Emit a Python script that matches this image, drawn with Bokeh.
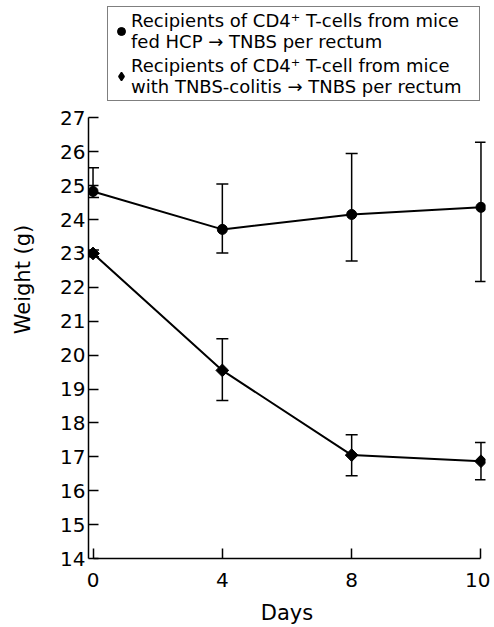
from bokeh.plotting import figure
from bokeh.models import (ColumnDataSource, Whisker, TeeHead, Legend, LegendItem,
                          Range1d, FixedTicker)
from bokeh.embed import file_html
from bokeh.resources import INLINE
import math

# ---- data ----
day_labels = ["0", "4", "8", "10"]
hcp_mean = [24.83, 23.71, 24.15, 24.36]
hcp_upper = [25.53, 25.05, 25.95, 26.28]
hcp_lower = [24.65, 23.01, 22.78, 22.17]
colitis_mean = [23.0, 19.55, 17.05, 16.87]
colitis_upper = [23.1, 20.48, 17.65, 17.42]
colitis_lower = [22.9, 18.66, 16.44, 16.32]
y_ticks = list(range(14, 28))

label_hcp = "Recipients of CD4\u207a T-cells from mice\nfed HCP \u2192 TNBS per rectum"
label_col = "Recipients of CD4\u207a T-cell from mice\nwith TNBS-colitis \u2192 TNBS per rectum"

xpos = list(range(len(day_labels)))
FONT = "DejaVu Sans"
PAD = 0.035

# layout geometry (pixels)
W, H = 490, 627
AX_TOP, AX_BOTTOM = 118, 561          # where y=27 and y=14 sit
Y_MIN, Y_MAX = y_ticks[0], y_ticks[-1]
px_per_unit = (AX_BOTTOM - AX_TOP) / (Y_MAX - Y_MIN)
y_end = Y_MAX + AX_TOP / px_per_unit   # frame extends to the top edge (room for legend)

src_h = ColumnDataSource(dict(x=xpos, y=hcp_mean, up=hcp_upper, lo=hcp_lower))
src_c = ColumnDataSource(dict(x=xpos, y=colitis_mean, up=colitis_upper, lo=colitis_lower))

p = figure(width=W, height=H, output_backend="svg", toolbar_location=None,
           x_range=Range1d(-PAD, len(day_labels) - 1 + PAD),
           y_range=Range1d(Y_MIN, y_end),
           min_border_left=88, min_border_right=W - 485, min_border_top=0,
           min_border_bottom=H - AX_BOTTOM)
p.outline_line_color = None
p.xgrid.visible = False
p.ygrid.visible = False
p.background_fill_color = "white"

for src in (src_h, src_c):
    w = Whisker(source=src, base="x", upper="up", lower="lo", line_color="black",
                line_width=1.5,
                upper_head=TeeHead(size=12, line_color="black", line_width=1.5),
                lower_head=TeeHead(size=12, line_color="black", line_width=1.5))
    p.add_layout(w)

p.line("x", "y", source=src_h, line_color="black", line_width=2)
p.line("x", "y", source=src_c, line_color="black", line_width=2)
r_h = p.scatter("x", "y", source=src_h, marker="circle", size=10,
                fill_color="black", line_color="black")
# diamond-shaped legend key (sits hidden beneath the plotted markers)
r_c_key = p.scatter("x", "y", source=src_c, marker="diamond", size=1,
                    fill_color="black", line_color="black", line_width=1.5)
r_c = p.scatter("x", "y", source=src_c, marker="square", size=9, angle=math.pi / 4,
                fill_color="black", line_color="black")

# axes
p.xaxis.ticker = FixedTicker(ticks=xpos)
p.xaxis.major_label_overrides = {i: l for i, l in enumerate(day_labels)}
p.xaxis.bounds = (0, len(day_labels) - 1)
p.yaxis.ticker = FixedTicker(ticks=y_ticks)
p.yaxis.bounds = (Y_MIN, Y_MAX)
p.xaxis.axis_label = "Days"
p.yaxis.axis_label = "Weight (g)"
for ax in (p.xaxis, p.yaxis):
    ax.axis_line_color = "black"
    ax.axis_line_width = 1.5
    ax.major_tick_line_color = "black"
    ax.major_tick_line_width = 1.5
    ax.major_tick_in = 10
    ax.major_tick_out = 0
    ax.minor_tick_line_color = None
    ax.major_label_text_font = FONT
    ax.major_label_text_font_size = "20px"
    ax.major_label_text_color = "black"
    ax.axis_label_text_font = FONT
    ax.axis_label_text_font_size = "21px"
    ax.axis_label_text_font_style = "normal"
    ax.axis_label_text_color = "black"
p.xaxis.major_label_standoff = 14
p.xaxis.axis_label_standoff = 11
p.yaxis.major_label_standoff = 3
p.yaxis.axis_label_standoff = 22

legend = Legend(items=[LegendItem(label=label_hcp, renderers=[r_h]),
                       LegendItem(label=label_col, renderers=[r_c_key])],
                location=(107 - 88, AX_BOTTOM - 104))
legend.border_line_color = "black"
legend.border_line_width = 1
legend.background_fill_alpha = 1
legend.label_text_font = FONT
legend.label_text_font_size = "18px"
legend.label_text_color = "black"
legend.glyph_width = 20
legend.glyph_height = 20
legend.label_standoff = 0
legend.label_width = 345
legend.padding = 3
legend.spacing = 3
legend.margin = 0
p.add_layout(legend, "center")

open("out.html", "w").write(file_html(p, INLINE))
